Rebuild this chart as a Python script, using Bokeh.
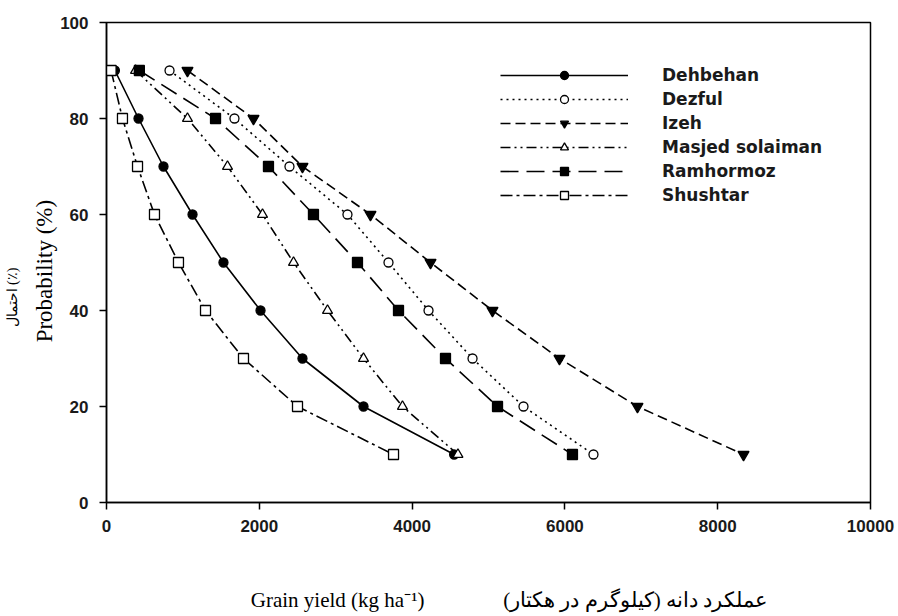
from bokeh.plotting import figure
from bokeh.models import Legend, LegendItem, Range1d, FixedTicker, LinearAxis
from bokeh.embed import file_html
from bokeh.resources import INLINE

probability = [90, 80, 70, 60, 50, 40, 30, 20, 10]

dehbehan = [110, 419, 746, 1126, 1531, 2016, 2565, 3364, 4550]
dezful = [825, 1675, 2395, 3154, 3691, 4215, 4791, 5458, 6374]
izeh = [1060, 1924, 2565, 3455, 4241, 5052, 5929, 6950, 8338]
masjed = [380, 1060, 1584, 2042, 2448, 2893, 3364, 3874, 4600]
ramhormoz = [430, 1427, 2120, 2709, 3285, 3822, 4437, 5118, 6099]
shushtar = [60, 209, 406, 628, 942, 1296, 1793, 2500, 3757]

series_names = ["Dehbehan", "Dezful", "Izeh", "Masjed solaiman", "Ramhormoz", "Shushtar"]
x_ticks = [0, 2000, 4000, 6000, 8000, 10000]
y_ticks = [0, 20, 40, 60, 80, 100]

x_label_en = "Grain yield (kg ha\u207b\u00b9)"
x_label_fa = "عملکرد دانه (کیلوگرم در هکتار)"
y_label_en = "Probability (%)"
y_label_fa = "احتمال (٪)"

NB = "\u00a0"

p = figure(width=896, height=614, output_backend="svg", toolbar_location=None,
           x_range=Range1d(0, 10000), y_range=Range1d(0, 100),
           min_border_left=106, min_border_right=26, min_border_top=22, min_border_bottom=112)

p.grid.visible = False
p.outline_line_color = "black"
p.outline_line_width = 1.5
p.background_fill_color = "white"
p.border_fill_color = "white"

for ax in (p.xaxis, p.yaxis):
    ax.axis_line_width = 1.5
    ax.major_tick_line_width = 1.5
    ax.major_tick_out = 7
    ax.major_tick_in = 0
    ax.minor_tick_out = 0
    ax.minor_tick_in = 0
    ax.major_label_text_font = "Liberation Sans"
    ax.major_label_text_font_style = "bold"
    ax.major_label_text_font_size = "17px"
    ax.major_label_text_color = "#1a1a1a"
    ax.axis_label_text_font = "Liberation Serif"
    ax.axis_label_text_font_style = "normal"
    ax.axis_label_text_color = "black"
p.xaxis.ticker = FixedTicker(ticks=x_ticks)
p.yaxis.ticker = FixedTicker(ticks=y_ticks)
p.xaxis.major_label_standoff = 10
p.yaxis.major_label_standoff = 11

p.xaxis.axis_label = NB * 8 + x_label_en + NB * 15 + x_label_fa
p.xaxis.axis_label_text_font_size = "21px"
p.xaxis.axis_label_standoff = 53
p.yaxis.axis_label = y_label_en + NB * 3
p.yaxis.axis_label_text_font_size = "23px"
p.yaxis.axis_label_standoff = 0

fa_axis = LinearAxis(ticker=FixedTicker(ticks=[]), axis_label=y_label_fa + NB * 20,
                     axis_line_color=None, major_tick_out=0, major_tick_in=0,
                     minor_tick_out=0, minor_tick_in=0, major_label_standoff=0,
                     axis_label_standoff=10,
                     axis_label_text_font="Liberation Serif",
                     axis_label_text_font_style="normal",
                     axis_label_text_font_size="14px",
                     axis_label_text_color="black")
p.add_layout(fa_axis, "left")

styles = [
    (dehbehan, "solid", "circle", "black", 9),
    (dezful, "2 4", "circle", "white", 9),
    (izeh, "10 5", "inverted_triangle", "black", 11),
    (masjed, "10 4 2 4 2 4", "triangle", "white", 10),
    (ramhormoz, "18 8", "square", "black", 10),
    (shushtar, "12 4 3 4", "square", "white", 10),
]

items = []
for name, (xs, dash, marker, fill, size) in zip(series_names, styles):
    lr = p.line(xs, probability, line_color="black", line_width=1.6, line_dash=dash)
    sr = p.scatter(xs, probability, marker=marker, size=size, fill_color=fill,
                   line_color="black", line_width=1.3)
    items.append(LegendItem(label=name, renderers=[lr, sr]))

legend = Legend(items=items, location=(394, 297), orientation="vertical",
                glyph_width=128, glyph_height=20, label_height=20, spacing=4,
                label_standoff=34, padding=0, margin=0,
                border_line_alpha=0, background_fill_alpha=0,
                label_text_font="DejaVu Sans", label_text_font_style="bold",
                label_text_font_size="17px", label_text_color="#1a1a1a")
p.add_layout(legend, "center")

open("out.html", "w").write(file_html(p, INLINE))
